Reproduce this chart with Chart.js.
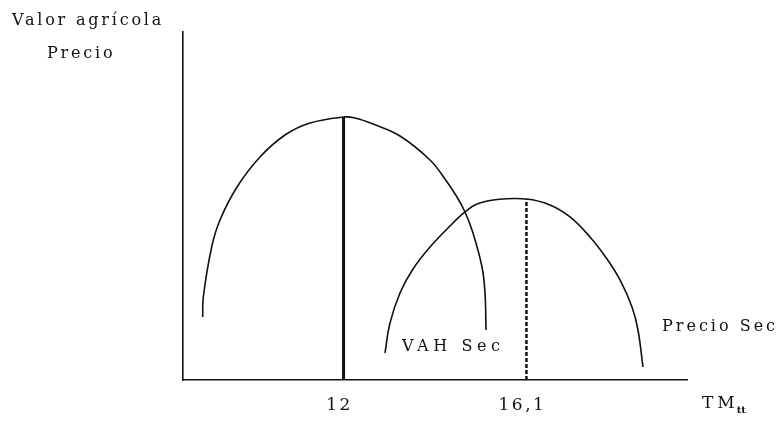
<!DOCTYPE html>
<html>
<head>
<meta charset="utf-8">
<script src="https://cdn.jsdelivr.net/npm/chart.js@4"></script>
<style>
html,body{margin:0;padding:0;background:#fff;}
#wrap{width:777px;height:422px;position:relative;}
</style>
</head>
<body>
<div id="wrap"><canvas id="c" width="777" height="422"></canvas></div>
<script>
// ---- data ----
const vahX = [8.842, 8.855, 9.043, 9.230, 9.611, 10.126, 10.687, 11.247, 12.0,
              12.256, 12.660, 13.265, 13.938, 14.274, 14.543, 14.723, 14.902, 15.104, 15.171, 15.194];
const vahY = [18.10, 23.85, 38.22, 45.98, 55.46, 64.08, 70.40, 73.85, 75.57,
              75.29, 73.56, 70.11, 63.22, 57.76, 52.59, 48.28, 42.24, 32.47, 25.00, 14.37];
const precioX = [12.929, 13.041, 13.265, 13.557, 13.938, 14.386, 14.723, 14.992, 15.440, 16.1,
                 16.628, 17.077, 17.525, 17.906, 18.198, 18.467, 18.601, 18.713];
const precioY = [7.76, 16.38, 25.00, 31.90, 38.22, 44.25, 48.28, 50.57, 51.87, 52.01,
                 50.29, 46.84, 41.09, 34.77, 28.74, 20.98, 14.37, 3.74];
const peakVahX = 12;
const peakVahY = 75.57;
const peakPrecioX = 16.1;
const peakPrecioY = 52.01;
const tickValues = [12, 16.1];
const tickLabels = ['12', '16,1'];
const yAxisTitle = ['Valor agrícola', 'Precio'];
const seriesLabels = ['VAH Sec', 'Precio Sec'];
const xAxisTitle = 'TM';
const xAxisSub = 'tt';

const FONT = '"DejaVu Serif", "Liberation Serif", serif';

function pts(xs, ys){ return xs.map((x,i)=>({x:x, y:ys[i]})); }

const textPlugin = {
  id: 'texts',
  beforeDraw(chart){
    chart.ctx.letterSpacing = '2.5px';
  },
  afterDraw(chart){
    const ctx = chart.ctx;
    ctx.save();
    ctx.fillStyle = '#111';
    ctx.textBaseline = 'alphabetic';
    ctx.textAlign = 'left';
    ctx.font = '16px ' + FONT;
    ctx.letterSpacing = '2.8px';
    ctx.fillText(yAxisTitle[0], 12, 25);
    ctx.fillText(yAxisTitle[1], 47, 58);
    ctx.letterSpacing = '4.6px';
    ctx.fillText(seriesLabels[0], 402, 351);
    ctx.letterSpacing = '3px';
    ctx.fillText(seriesLabels[1], 662, 331);
    ctx.letterSpacing = '4px';
    ctx.font = '17px ' + FONT;
    ctx.fillText(xAxisTitle, 702, 408);
    const w = ctx.measureText(xAxisTitle).width;
    ctx.font = 'bold 10px ' + FONT;
    ctx.letterSpacing = '0px';
    ctx.fillText(xAxisSub, 702 + w - 2, 413);
    ctx.restore();
  }
};

new Chart(document.getElementById('c'), {
  type: 'scatter',
  data: {
    datasets: [
      { data: pts(vahX, vahY), showLine: true, borderColor: '#111', borderWidth: 1.6, pointRadius: 0, tension: 0.4, fill: false },
      { data: pts(precioX, precioY), showLine: true, borderColor: '#111', borderWidth: 1.6, pointRadius: 0, tension: 0.4, fill: false },
      { data: [{x: peakVahX, y: 0}, {x: peakVahX, y: peakVahY}], showLine: true, borderColor: '#111', borderWidth: 3, pointRadius: 0 },
      { data: [{x: peakPrecioX, y: 0}, {x: peakPrecioX, y: peakPrecioY}], showLine: true, borderColor: '#111', borderWidth: 2.5, borderDash: [4, 2], pointRadius: 0 }
    ]
  },
  options: {
    responsive: false,
    animation: false,
    events: [],
    layout: { padding: { left: 183, top: 32, right: 90, bottom: 0 } },
    plugins: { legend: { display: false }, tooltip: { enabled: false }, title: { display: false } },
    scales: {
      x: {
        type: 'linear', min: 8.4, max: 19.7,
        grid: { display: false, drawTicks: false },
        border: { display: true, color: '#111', width: 1.6 },
        afterBuildTicks(scale){ scale.ticks = tickValues.map(v => ({value: v})); },
        afterFit(scale){ scale.height = 42; },
        ticks: {
          padding: 15,
          labelOffset: -4,
          color: '#111',
          font: { family: FONT, size: 17 },
          maxRotation: 0, autoSkip: false,
          callback(value){ const i = tickValues.indexOf(value); return i >= 0 ? tickLabels[i] : ''; }
        }
      },
      y: {
        type: 'linear', min: 0, max: 100,
        grid: { display: false, drawTicks: false },
        border: { display: true, color: '#111', width: 1.6 },
        ticks: { display: false },
        afterFit(scale){ scale.width = 0; }
      }
    }
  },
  plugins: [textPlugin]
});
</script>
</body>
</html>
